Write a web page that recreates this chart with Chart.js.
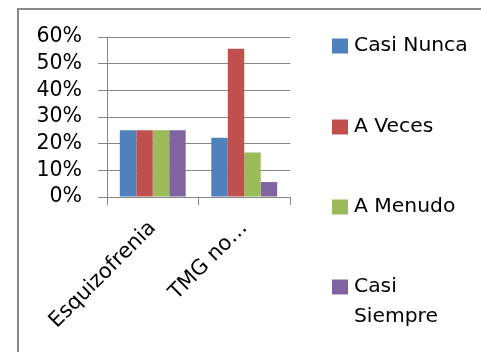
<!DOCTYPE html>
<html>
<head>
<meta charset="utf-8">
<script src="https://cdn.jsdelivr.net/npm/chart.js@4/dist/chart.umd.min.js"></script>
<style>
  html, body { margin: 0; padding: 0; background: #fff; }
  #wrap { position: relative; width: 481px; height: 352px; overflow: hidden; }
  #frame { position: absolute; left: 17px; top: 8px; width: 600px; height: 600px;
           border-left: 2.5px solid #8a8a8a; border-top: 2px solid #8a8a8a; }
  canvas { position: absolute; left: 0; top: 0; }
</style>
</head>
<body>
<div id="wrap">
  <div id="frame"></div>
  <canvas id="c" width="481" height="352"></canvas>
</div>
<script>
// Diagnosis groups on the x axis
const categories = ['Esquizofrenia', 'TMG no…'];

// Share of answers per frequency level, one array per series
const casiNunca   = [0.25, 0.222];
const aVeces      = [0.25, 0.556];
const aMenudo     = [0.25, 0.167];
const casiSiempre = [0.25, 0.056];

const seriesNames  = ['Casi Nunca', 'A Veces', 'A Menudo', 'Casi Siempre'];
const seriesColors = ['#4F81BD', '#C0504D', '#9BBB59', '#8064A2'];

// Value-axis tick labels
const yTicks = ['0%', '10%', '20%', '30%', '40%', '50%', '60%'];

const FONT = '"DejaVu Sans", sans-serif';
const GRID = '#868686';

// Legend drawn to the right of the plot, one entry per series, wrapping long names
const sideLegend = {
  id: 'sideLegend',
  afterDraw(chart) {
    const ctx = chart.ctx;
    const x0 = 332, textX = 354, maxW = 118, lineH = 30;
    const rows = [46, 127, 207, 287];
    ctx.save();
    ctx.font = '20.3px ' + FONT;
    ctx.textBaseline = 'middle';
    ctx.textAlign = 'left';
    chart.data.datasets.forEach((ds, i) => {
      const y = rows[i];
      ctx.fillStyle = ds.backgroundColor;
      ctx.fillRect(x0, y - 7.5, 16, 15);
      // word wrap
      const words = ds.label.split(' ');
      const lines = [];
      let cur = '';
      words.forEach(w => {
        const t = cur ? cur + ' ' + w : w;
        if (cur && ctx.measureText(t).width > maxW) { lines.push(cur); cur = w; }
        else cur = t;
      });
      if (cur) lines.push(cur);
      ctx.fillStyle = '#000';
      lines.forEach((ln, k) => ctx.fillText(ln, textX, y + k * lineH));
    });
    ctx.restore();
  }
};

const datasets = [casiNunca, aVeces, aMenudo, casiSiempre].map((vals, i) => ({
  label: seriesNames[i],
  data: vals,
  backgroundColor: seriesColors[i],
  borderWidth: 0,
  categoryPercentage: 0.72,
  barPercentage: 1.0
}));

new Chart(document.getElementById('c'), {
  type: 'bar',
  data: { labels: categories, datasets },
  options: {
    responsive: false,
    animation: false,
    layout: { padding: { top: 37, right: 191, bottom: 0, left: 0 } },
    plugins: { legend: { display: false }, tooltip: { enabled: false } },
    scales: {
      x: {
        offset: true,
        grid: { display: true, drawOnChartArea: false, drawTicks: true, tickLength: 8,
                color: GRID, offset: true },
        border: { display: true, color: GRID, width: 1 },
        ticks: { color: '#000', font: { family: FONT, size: 21 }, maxRotation: 45,
                 minRotation: 45, autoSkip: false, padding: 11 },
        afterFit(s) { s.height = 155; }
      },
      y: {
        min: 0, max: 0.6,
        grid: { color: GRID, tickLength: 9, drawTicks: true },
        border: { display: true, color: GRID, width: 1 },
        ticks: {
          stepSize: 0.1,
          autoSkip: false,
          color: '#000',
          padding: 16,
          font: { family: FONT, size: 20.5 },
          callback: (v) => yTicks[Math.round(v * 10)]
        },
        afterFit(s) { s.width = 107; }
      }
    }
  },
  plugins: [sideLegend]
});
</script>
</body>
</html>
